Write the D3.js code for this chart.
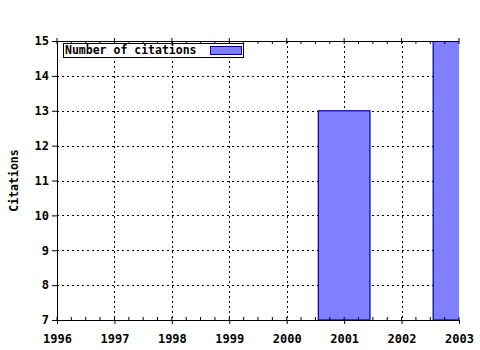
<!DOCTYPE html>
<html>
<head>
<meta charset="utf-8">
<script src="https://cdn.jsdelivr.net/npm/d3@7"></script>
<style>
body { margin: 0; background: #fff; }
text { font-family: "DejaVu Sans Mono", monospace; font-weight: bold; font-size: 11.5px; }
</style>
</head>
<body>
<div id="chart"></div>
<script>
var years = [2001, 2003];
var citations = [13, 15];
var xTicks = [1996, 1997, 1998, 1999, 2000, 2001, 2002, 2003];
var yTicks = [7, 8, 9, 10, 11, 12, 13, 14, 15];
var seriesName = "Number of citations";

var margin = {top: 41, right: 21, bottom: 30, left: 57},
    width = 480 - margin.left - margin.right,
    height = 350 - margin.top - margin.bottom;

var svg = d3.select("#chart").append("svg")
    .attr("width", 480)
    .attr("height", 350);

var g = svg.append("g")
    .attr("transform", "translate(" + margin.left + "," + margin.top + ")");

var x = d3.scaleLinear().domain([1996, 2003]).range([0, width]);
var y = d3.scaleLinear().domain([7, 15]).range([height, 0]);

g.append("clipPath").attr("id", "clip")
    .append("rect").attr("width", width).attr("height", height);

// grid
g.selectAll(".vgrid").data(xTicks.slice(1, -1)).enter().append("line")
    .attr("x1", function (d) { return Math.round(x(d)) + 0.5; })
    .attr("x2", function (d) { return Math.round(x(d)) + 0.5; })
    .attr("y1", 0).attr("y2", height)
    .attr("stroke", "#000").attr("stroke-dasharray", "2,3");
g.selectAll(".hgrid").data(yTicks.slice(1, -1)).enter().append("line")
    .attr("y1", function (d) { return Math.round(y(d)) + 0.5; })
    .attr("y2", function (d) { return Math.round(y(d)) + 0.5; })
    .attr("x1", 0).attr("x2", width)
    .attr("stroke", "#000").attr("stroke-dasharray", "2,3");

// bars
var barW = (x(1997) - x(1996)) * 0.9;
g.append("g").attr("clip-path", "url(#clip)")
    .selectAll("rect").data(years).enter().append("rect")
    .attr("x", function (d) { return x(d) - barW / 2; })
    .attr("y", function (d, i) { return y(citations[i]); })
    .attr("width", barW)
    .attr("height", function (d, i) { return height - y(citations[i]); })
    .attr("fill", "#8080ff")
    .attr("stroke", "#0000a0")
    .attr("stroke-width", 1.2);

// axes
var minor = d3.range(1996, 2003.01, 0.25);
var xAxis = d3.axisBottom(x).tickValues(xTicks).tickFormat(d3.format("d")).tickSize(4).tickPadding(10);
var xAxisG = g.append("g").attr("transform", "translate(0," + height + ")").call(xAxis);
xAxisG.select(".domain").remove();
g.append("g").attr("transform", "translate(0," + height + ")")
    .selectAll("line").data(minor).enter().append("line")
    .attr("x1", function (d) { return x(d); }).attr("x2", function (d) { return x(d); })
    .attr("y1", 0).attr("y2", -3).attr("stroke", "#000");
g.append("g")
    .selectAll("line").data(minor).enter().append("line")
    .attr("x1", function (d) { return x(d); }).attr("x2", function (d) { return x(d); })
    .attr("y1", 0).attr("y2", 3).attr("stroke", "#000");
g.append("g")
    .selectAll("line").data(xTicks).enter().append("line")
    .attr("x1", function (d) { return x(d); }).attr("x2", function (d) { return x(d); })
    .attr("y1", -3).attr("y2", 0).attr("stroke", "#000");

var yAxis = d3.axisLeft(y).tickValues(yTicks).tickSize(5).tickPadding(3);
var yAxisG = g.append("g").call(yAxis);
yAxisG.select(".domain").remove();

g.selectAll(".tick text").attr("fill", "#000").style("font-size", "12px");

g.append("line").attr("x1", 0).attr("x2", width).attr("y1", height + 0.5).attr("y2", height + 0.5).attr("stroke", "#000");
g.append("line").attr("x1", 0).attr("x2", width).attr("y1", 0.5).attr("y2", 0.5).attr("stroke", "#000");
g.append("line").attr("x1", 0.5).attr("x2", 0.5).attr("y1", 0).attr("y2", height).attr("stroke", "#000");

// y label
svg.append("text")
    .attr("transform", "translate(18," + (margin.top + height / 2) + ") rotate(-90)")
    .attr("text-anchor", "middle")
    .text("Citations");

// legend
var legend = g.append("g").attr("transform", "translate(6,2)");
legend.append("rect").attr("x", 0.5).attr("y", 0.5).attr("width", 180).attr("height", 14)
    .attr("fill", "#fff").attr("stroke", "#000");
legend.append("text").attr("x", 2).attr("y", 11).text(seriesName);
legend.append("rect").attr("x", 147.5).attr("y", 3.5).attr("width", 31).attr("height", 8)
    .attr("fill", "#8080ff").attr("stroke", "#0000a0");
</script>
</body>
</html>
